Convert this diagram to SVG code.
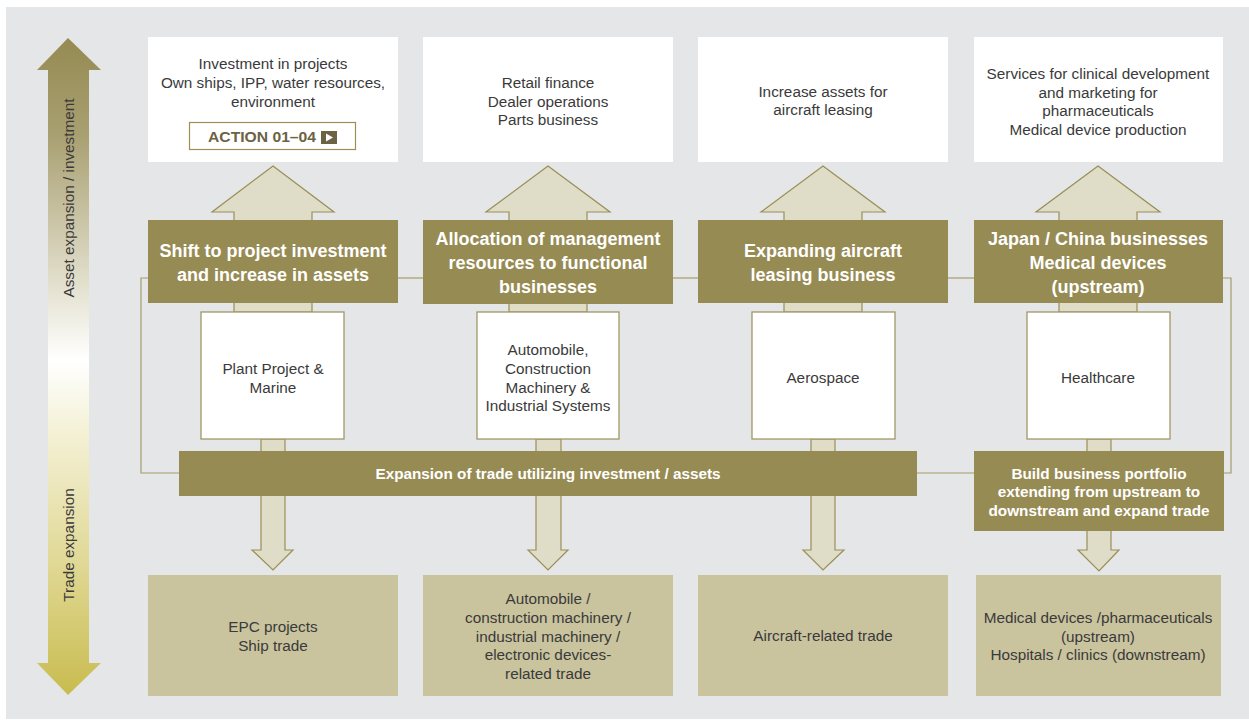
<svg xmlns="http://www.w3.org/2000/svg" width="1249" height="720" viewBox="0 0 1249 720">
<defs>
<linearGradient id="sideGrad" gradientUnits="userSpaceOnUse" x1="0" y1="38" x2="0" y2="695">
<stop offset="0" stop-color="#958a52"/>
<stop offset="0.15" stop-color="#a9a072"/>
<stop offset="0.4" stop-color="#e9e7d8"/>
<stop offset="0.49" stop-color="#ffffff"/>
<stop offset="0.6" stop-color="#f4f1d6"/>
<stop offset="0.8" stop-color="#e0d895"/>
<stop offset="1" stop-color="#c8bc4f"/>
</linearGradient>
<style>
.bg{fill:#e5e6e8}
.top{fill:#ffffff}
.olive{fill:#978b54}
.mid{fill:#ffffff;stroke:#a19868;stroke-width:1.3}
.bot{fill:#c9c39e}
.arr{fill:#dfdcc7;stroke:#9a8f57;stroke-width:1.2;stroke-linejoin:miter}
.ln{fill:none;stroke:#a59b6b;stroke-width:1.2}
text{font-family:"Liberation Sans",Arial,Helvetica,sans-serif}
.t{font-size:15.3px;fill:#3a3a3a;text-anchor:middle}
.w{font-size:18px;font-weight:bold;fill:#ffffff;text-anchor:middle}
.wb{font-size:15.3px;font-weight:bold;fill:#ffffff;text-anchor:middle}
.side{font-size:15.3px;fill:#3a3a3a;text-anchor:middle}
</style>
</defs>
<rect class="bg" x="6" y="7" width="1243" height="712"/>

<g id="side-axis">
<polygon fill="url(#sideGrad)" points="68,38 101,70 89,70 89,663 101,663 68,695 37,663 48,663 48,70 37,70"/>
<text class="side" transform="translate(74,198) rotate(-90)">Asset expansion / investment</text>
<text class="side" transform="translate(74,545) rotate(-90)">Trade expansion</text>
</g>

<g id="connectors">
<polyline class="ln" points="179,473 141,473 141,278 148,278"/>
<line class="ln" x1="398" y1="278" x2="423" y2="278"/>
<line class="ln" x1="673" y1="278" x2="698" y2="278"/>
<line class="ln" x1="948" y1="278" x2="974" y2="278"/>
<polyline class="ln" points="1223,278 1231,278 1231,473 1223,473"/>
<line class="ln" x1="917" y1="473" x2="974" y2="473"/>
<polygon class="arr" points="273,166 334,212 312,212 312,312 234,312 234,212 212,212"/>
<polygon class="arr" points="548,166 610,212 587,212 587,312 509,312 509,212 486,212"/>
<polygon class="arr" points="823,166 885,212 862,212 862,312 784,312 784,212 761,212"/>
<polygon class="arr" points="1098,166 1160,212 1137,212 1137,312 1059,312 1059,212 1036,212"/>
<polygon class="arr" points="261,439 285,439 285,550 293,550 273,570 252,550 261,550"/>
<polygon class="arr" points="536,439 561,439 561,550 568,550 548,570 528,550 536,550"/>
<polygon class="arr" points="811,439 835,439 835,550 844,550 823,570 803,550 811,550"/>
<polygon class="arr" points="1087,439 1111,439 1111,550 1119,550 1099,571 1078,550 1087,550"/>
</g>

<g id="top-1">
<rect class="top" x="148" y="37" width="250" height="125"/>
<text class="t" x="273" y="69">Investment in projects</text>
<text class="t" x="273" y="88">Own ships, IPP, water resources,</text>
<text class="t" x="273" y="107">environment</text>
<g id="action-button">
<rect x="189.5" y="122.5" width="166" height="27" fill="#ffffff" stroke="#9a8f57" stroke-width="1.2"/>
<text x="208" y="142" font-size="15" font-weight="bold" fill="#6b6343" textLength="108" lengthAdjust="spacingAndGlyphs">ACTION 01–04</text>
<rect x="321" y="131" width="16" height="13" fill="#6b6343"/>
<polygon points="326,133.5 326,141.5 333,137.5" fill="#ffffff"/>
</g>
</g>
<g id="top-2">
<rect class="top" x="423" y="37" width="250" height="125"/>
<text class="t" x="548" y="88">Retail finance</text>
<text class="t" x="548" y="107">Dealer operations</text>
<text class="t" x="548" y="125">Parts business</text>
</g>
<g id="top-3">
<rect class="top" x="698" y="37" width="250" height="125"/>
<text class="t" x="823" y="97">Increase assets for</text>
<text class="t" x="823" y="115">aircraft leasing</text>
</g>
<g id="top-4">
<rect class="top" x="974" y="37" width="249" height="125"/>
<text class="t" x="1098" y="79">Services for clinical development</text>
<text class="t" x="1098" y="98">and marketing for</text>
<text class="t" x="1098" y="116">pharmaceuticals</text>
<text class="t" x="1098" y="135">Medical device production</text>
</g>

<g id="strategy-1">
<rect class="olive" x="148" y="220" width="250" height="83"/>
<text class="w" x="273" y="257">Shift to project investment</text>
<text class="w" x="273" y="281">and increase in assets</text>
</g>
<g id="strategy-2">
<rect class="olive" x="423" y="220" width="250" height="84"/>
<text class="w" x="548" y="245">Allocation of management</text>
<text class="w" x="548" y="269">resources to functional</text>
<text class="w" x="548" y="293">businesses</text>
</g>
<g id="strategy-3">
<rect class="olive" x="698" y="220" width="250" height="83"/>
<text class="w" x="823" y="257">Expanding aircraft</text>
<text class="w" x="823" y="281">leasing business</text>
</g>
<g id="strategy-4">
<rect class="olive" x="974" y="220" width="249" height="83"/>
<text class="w" x="1098" y="245">Japan / China businesses</text>
<text class="w" x="1098" y="269">Medical devices</text>
<text class="w" x="1098" y="293">(upstream)</text>
</g>

<g id="segment-1">
<rect class="mid" x="201" y="312" width="143" height="127"/>
<text class="t" x="273" y="374">Plant Project &amp;</text>
<text class="t" x="273" y="393">Marine</text>
</g>
<g id="segment-2">
<rect class="mid" x="477" y="312" width="142" height="127"/>
<text class="t" x="548" y="355">Automobile,</text>
<text class="t" x="548" y="374">Construction</text>
<text class="t" x="548" y="393">Machinery &amp;</text>
<text class="t" x="548" y="411">Industrial Systems</text>
</g>
<g id="segment-3">
<rect class="mid" x="752" y="312" width="143" height="127"/>
<text class="t" x="823" y="383">Aerospace</text>
</g>
<g id="segment-4">
<rect class="mid" x="1027" y="312" width="143" height="127"/>
<text class="t" x="1098" y="383">Healthcare</text>
</g>

<g id="trade-bar">
<rect class="olive" x="179" y="451" width="738" height="45"/>
<text class="wb" x="548" y="479">Expansion of trade utilizing investment / assets</text>
</g>
<g id="portfolio">
<rect class="olive" x="974" y="451" width="250" height="80"/>
<text class="wb" x="1099" y="479">Build business portfolio</text>
<text class="wb" x="1099" y="497">extending from upstream to</text>
<text class="wb" x="1099" y="516">downstream and expand trade</text>
</g>

<g id="trade-1">
<rect class="bot" x="148" y="575" width="250" height="121"/>
<text class="t" x="273" y="632">EPC projects</text>
<text class="t" x="273" y="651">Ship trade</text>
</g>
<g id="trade-2">
<rect class="bot" x="423" y="575" width="250" height="121"/>
<text class="t" x="548" y="604">Automobile /</text>
<text class="t" x="548" y="623">construction machinery /</text>
<text class="t" x="548" y="642">industrial machinery /</text>
<text class="t" x="548" y="660">electronic devices-</text>
<text class="t" x="548" y="679">related trade</text>
</g>
<g id="trade-3">
<rect class="bot" x="698" y="575" width="250" height="121"/>
<text class="t" x="823" y="641">Aircraft-related trade</text>
</g>
<g id="trade-4">
<rect class="bot" x="976" y="575" width="245" height="121"/>
<text class="t" x="1098" y="623">Medical devices /pharmaceuticals</text>
<text class="t" x="1098" y="642">(upstream)</text>
<text class="t" x="1098" y="660">Hospitals / clinics (downstream)</text>
</g>
</svg>
